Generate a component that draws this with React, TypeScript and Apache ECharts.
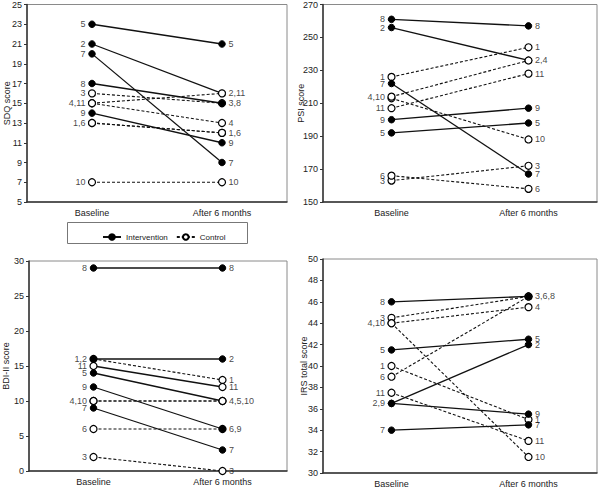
import React, { useEffect, useRef } from "react";
import * as echarts from "echarts";

const CATEGORIES = ["Baseline", "After 6 months"];
const SUBJECTS = ["1", "2", "3", "4", "5", "6", "7", "8", "9", "10", "11"];
// I = intervention, C = control
const GROUP = ["C", "I", "C", "C", "I", "C", "I", "I", "I", "C", "C"];

const sdqBaseline = [13, 21, 16, 15, 23, 13, 20, 17, 14, 7, 15];
const sdqAfter = [12, 16, 15, 13, 21, 12, 9, 15, 11, 7, 16];
const psiBaseline = [226, 256, 163, 214, 192, 166, 222, 261, 200, 213, 207];
const psiAfter = [244, 236, 172, 236, 198, 158, 167, 257, 207, 188, 228];
const bdiBaseline = [16, 16, 2, 10, 14, 6, 9, 29, 12, 10, 15];
const bdiAfter = [13, 16, 0, 10, 10, 6, 3, 29, 6, 10, 12];
const irsBaseline = [40, 36.5, 44.5, 44, 41.5, 39, 34, 46, 36.5, 44, 37.5];
const irsAfter = [35, 42, 46.5, 45.5, 42.5, 46.5, 34.5, 46.5, 35.5, 31.5, 33];

const sdqBaseLabels: [number, string][] = [[23, "5"], [21, "2"], [20, "7"], [17, "8"], [16, "3"], [15, "4,11"], [14, "9"], [13, "1,6"], [7, "10"]];
const sdqAfterLabels: [number, string][] = [[21, "5"], [16, "2,11"], [15, "3,8"], [13, "4"], [12, "1,6"], [11, "9"], [9, "7"], [7, "10"]];
const psiBaseLabels: [number, string][] = [[261, "8"], [256, "2"], [226, "1"], [222, "7"], [214, "4,10"], [207, "11"], [200, "9"], [192, "5"], [166, "6"], [163, "3"]];
const psiAfterLabels: [number, string][] = [[257, "8"], [244, "1"], [236, "2,4"], [228, "11"], [207, "9"], [198, "5"], [188, "10"], [172, "3"], [167, "7"], [158, "6"]];
const bdiBaseLabels: [number, string][] = [[29, "8"], [16, "1,2"], [15, "11"], [14, "5"], [12, "9"], [10, "4,10"], [9, "7"], [6, "6"], [2, "3"]];
const bdiAfterLabels: [number, string][] = [[29, "8"], [16, "2"], [13, "1"], [12, "11"], [10, "4,5,10"], [6, "6,9"], [3, "7"], [0, "3"]];
const irsBaseLabels: [number, string][] = [[46, "8"], [44.5, "3"], [44, "4,10"], [41.5, "5"], [40, "1"], [39, "6"], [37.5, "11"], [36.5, "2,9"], [34, "7"]];
const irsAfterLabels: [number, string][] = [[46.5, "3,6,8"], [45.5, "4"], [42.5, "5"], [42, "2"], [35.5, "9"], [35, "1"], [34.5, "7"], [33, "11"], [31.5, "10"]];

// layout / style settings
const PANELS = [
  { name: "SDQ score", base: sdqBaseline, after: sdqAfter, bl: sdqBaseLabels, al: sdqAfterLabels, min: 5, max: 25, interval: 2,
    grid: { left: 27, top: 4, width: 260, height: 198 }, nameGap: 16, onTop: ["11"], solidControl: [] as string[] },
  { name: "PSI score", base: psiBaseline, after: psiAfter, bl: psiBaseLabels, al: psiAfterLabels, min: 150, max: 270, interval: 20,
    grid: { left: 323, top: 4, width: 274, height: 198 }, nameGap: 18, onTop: ["4"], solidControl: [] as string[] },
  { name: "BDI-II score", base: bdiBaseline, after: bdiAfter, bl: bdiBaseLabels, al: bdiAfterLabels, min: 0, max: 30, interval: 5,
    grid: { left: 27, top: 261, width: 260, height: 210 }, nameGap: 19, onTop: ["4", "10"], solidControl: ["11"] },
  { name: "IRS total score", base: irsBaseline, after: irsAfter, bl: irsBaseLabels, al: irsAfterLabels, min: 30, max: 50, interval: 2,
    grid: { left: 323, top: 259, width: 274, height: 217 }, nameGap: 15, onTop: [] as string[], solidControl: [] as string[] },
];

const LABEL_OFFSETS: Record<string, [number, number]> = {
  "1-0-1": [0, -4],
  "1-0-6": [0, -1],
  "1-0-3": [0, 1],
  "2-1-3": [0, -6],
  "3-0-4,10": [0, 3],
  "3-1-5": [0, -1],
  "3-1-2": [0, 1],
  "3-1-9": [0, -1],
  "3-1-7": [0, 1],
};

const FONT = "Liberation Sans";

function buildOption() {
  const grid: any[] = [];
  const xAxis: any[] = [];
  const yAxis: any[] = [];
  const series: any[] = [];

  PANELS.forEach((p, pi) => {
    grid.push({ ...p.grid, show: true, borderColor: "#8a8a8a", borderWidth: 1, containLabel: false });
    xAxis.push({
      type: "category", gridIndex: pi, data: CATEGORIES, boundaryGap: true,
      axisLine: { lineStyle: { color: "#333", width: 1.5 } },
      axisTick: { show: false },
      axisLabel: { fontSize: 9, color: "#222", fontFamily: FONT, margin: 6 },
    });
    yAxis.push({
      type: "value", gridIndex: pi, min: p.min, max: p.max, interval: p.interval,
      name: p.name, nameLocation: "middle", nameGap: p.nameGap, nameMoveOverlap: false,
      nameTextStyle: { fontSize: 9, color: "#222", fontFamily: FONT },
      axisLine: { show: true, lineStyle: { color: "#333", width: 1.5 } },
      axisTick: { show: true, length: 3, lineStyle: { color: "#333" } },
      splitLine: { show: false },
      axisLabel: { fontSize: 9, color: "#222", fontFamily: FONT, margin: 5 },
    });

    const makeSeries = (i: number) => {
      const id = SUBJECTS[i];
      const isI = GROUP[i] === "I";
      const solid = isI || p.solidControl.includes(id);
      return {
        type: "line",
        name: isI ? "Intervention" : "Control",
        xAxisIndex: pi, yAxisIndex: pi,
        data: [p.base[i], p.after[i]],
        symbol: "circle",
        symbolSize: isI ? 6.5 : 7,
        showSymbol: true,
        itemStyle: isI
          ? { color: "#000", borderColor: "#000", borderWidth: 1 }
          : { color: "#fff", borderColor: "#000", borderWidth: 1.2 },
        lineStyle: { color: "#111", width: solid ? 1.3 : 1.1, type: solid ? "solid" : [3, 2] },
        silent: true,
      };
    };
    const idx = SUBJECTS.map((_, i) => i);
    const control = idx.filter((i) => GROUP[i] === "C" && !p.onTop.includes(SUBJECTS[i]));
    const interv = idx.filter((i) => GROUP[i] === "I" && !p.onTop.includes(SUBJECTS[i]));
    const top = idx.filter((i) => p.onTop.includes(SUBJECTS[i]));
    [...control, ...interv, ...top].forEach((i) => series.push(makeSeries(i)));

    const labelData: any[] = [];
    [p.bl, p.al].forEach((arr, ci) => {
      arr.forEach(([v, text]) => {
        const off = LABEL_OFFSETS[`${pi}-${ci}-${text}`] || [0, 0];
        labelData.push({
          value: [ci, v, text],
          label: {
            position: ci === 0 ? "left" : "right",
            distance: 6,
            offset: off,
          },
        });
      });
    });
    series.push({
      type: "scatter",
      name: "labels" + pi,
      xAxisIndex: pi, yAxisIndex: pi,
      symbolSize: 1,
      itemStyle: { color: "rgba(255,255,255,0)" },
      silent: true,
      z: 10,
      data: labelData,
      label: {
        show: true,
        formatter: (d: any) => d.value[2],
        fontSize: 9, color: "#111", fontFamily: FONT,
        textBorderWidth: 0, textBorderColor: "transparent",
      },
      labelLayout: { hideOverlap: false },
    });
  });

  return {
    animation: false,
    backgroundColor: "#fff",
    textStyle: { fontFamily: FONT },
    grid, xAxis, yAxis, series,
    legend: {
      data: ["Intervention", "Control"],
      left: 97, top: 228,
      itemWidth: 18, itemHeight: 7, itemGap: 8,
      selectedMode: false,
      textStyle: { fontSize: 8, color: "#222", fontFamily: FONT },
    },
    graphic: [
      {
        type: "rect",
        shape: { x: 67.5, y: 222.5, width: 180, height: 21 },
        style: { fill: "none", stroke: "#777", lineWidth: 1 },
        silent: true,
      },
    ],
  };
}

export default function App() {
  const ref = useRef<HTMLDivElement>(null);
  useEffect(() => {
    if (!ref.current) return;
    const chart = echarts.init(ref.current, null, { renderer: "svg" });
    chart.setOption(buildOption() as any);
    return () => chart.dispose();
  }, []);
  return (
    <div
      ref={ref}
      style={{ position: "absolute", left: 0, top: 0, width: 600, height: 488, background: "#fff" }}
    />
  );
}
